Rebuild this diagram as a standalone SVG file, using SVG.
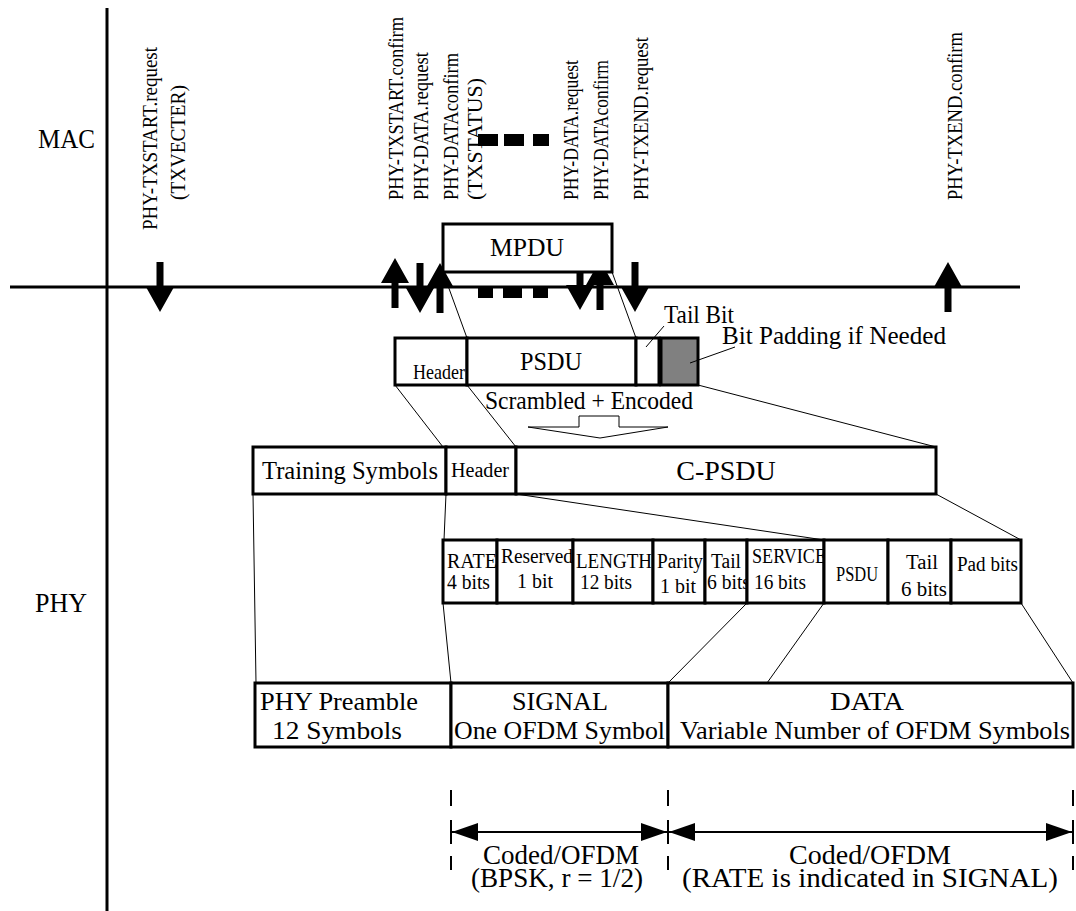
<svg xmlns="http://www.w3.org/2000/svg" width="1076" height="911" viewBox="0 0 1076 911">
<style>
text{font-family:"Liberation Serif","Times New Roman",serif;fill:#000}
.box{fill:#fff;stroke:#000;stroke-width:3}
.thin{stroke:#000;stroke-width:1;fill:none}
.axis{stroke:#000;stroke-width:3;fill:none}
.vl{font-size:20px}
.big{font-size:27px}
.row{font-size:26px}
.mid{font-size:25px}
.fld{font-size:20px}
.tick{stroke:#000;stroke-width:2;fill:none}
</style>
<defs>
<path id="dn" d="M-3.5,0 H3.5 V25 H14 L0,50 L-14,25 H-3.5 Z" fill="#000"/>
<path id="up" d="M0,0 L14,25 H3.5 V50 H-3.5 V25 H-14 Z" fill="#000"/>
<marker id="ah" viewBox="0 0 26 18" refX="26" refY="9" markerWidth="26" markerHeight="18" markerUnits="userSpaceOnUse" orient="auto-start-reverse"><path d="M0,0 L26,9 L0,18 Z" fill="#000"/></marker>
</defs>

<g id="axes">
<line class="axis" x1="107" y1="8" x2="107" y2="911"/>
<line class="axis" x1="10" y1="287" x2="1020" y2="287"/>
<text class="big" x="38" y="148" textLength="57" lengthAdjust="spacingAndGlyphs">MAC</text>
<text class="big" x="35" y="612" textLength="52" lengthAdjust="spacingAndGlyphs">PHY</text>
</g>

<g id="primitives">
<text class="vl" transform="translate(157,230) rotate(-90)" textLength="183" lengthAdjust="spacingAndGlyphs">PHY-TXSTART.request</text>
<text class="vl" transform="translate(185,200) rotate(-90)" textLength="115" lengthAdjust="spacingAndGlyphs">(TXVECTER)</text>
<text class="vl" transform="translate(403,200) rotate(-90)" textLength="183" lengthAdjust="spacingAndGlyphs">PHY-TXSTART.confirm</text>
<text class="vl" transform="translate(428,200) rotate(-90)" textLength="148" lengthAdjust="spacingAndGlyphs">PHY-DATA.request</text>
<text class="vl" transform="translate(458,200) rotate(-90)" textLength="147" lengthAdjust="spacingAndGlyphs">PHY-DATAconfirm</text>
<text class="vl" transform="translate(482,200) rotate(-90)" textLength="122" lengthAdjust="spacingAndGlyphs">(TXSTATUS)</text>
<text class="vl" transform="translate(578,200) rotate(-90)" textLength="140" lengthAdjust="spacingAndGlyphs">PHY-DATA.request</text>
<text class="vl" transform="translate(608,200) rotate(-90)" textLength="140" lengthAdjust="spacingAndGlyphs">PHY-DATAconfirm</text>
<text class="vl" transform="translate(648,200) rotate(-90)" textLength="163" lengthAdjust="spacingAndGlyphs">PHY-TXEND.request</text>
<text class="vl" transform="translate(962,200) rotate(-90)" textLength="168" lengthAdjust="spacingAndGlyphs">PHY-TXEND.confirm</text>
<rect x="478" y="134" width="20" height="12"/>
<rect x="504" y="134" width="20" height="12"/>
<rect x="533" y="134" width="16" height="12"/>
<rect x="478" y="288" width="15" height="10"/>
<rect x="503" y="288" width="19" height="10"/>
<rect x="533" y="288" width="15" height="10"/>
<use href="#dn" x="160" y="262"/>
<use href="#up" x="395" y="258"/>
<use href="#dn" x="420" y="263"/>
<use href="#up" x="440" y="263"/>
<use href="#dn" x="580" y="260"/>
<use href="#up" x="600" y="260"/>
<use href="#dn" x="635" y="262"/>
<use href="#up" x="948" y="262"/>
</g>

<g id="mpdu">
<rect class="box" x="443" y="224" width="169" height="48"/>
<text x="527" y="256" text-anchor="middle" style="font-size:26px" textLength="74" lengthAdjust="spacingAndGlyphs">MPDU</text>
</g>

<g id="psdu-row">
<rect class="box" x="395" y="338" width="72" height="47"/>
<text x="413" y="379" style="font-size:21px" textLength="52" lengthAdjust="spacingAndGlyphs">Header</text>
<rect class="box" x="467" y="338" width="169" height="47"/>
<text x="551" y="370" text-anchor="middle" style="font-size:26px" textLength="62" lengthAdjust="spacingAndGlyphs">PSDU</text>
<rect class="box" x="636" y="338" width="23" height="47"/>
<rect class="box" x="661" y="338" width="37" height="47" style="fill:#808080"/>
<text class="mid" x="664" y="323" textLength="70" lengthAdjust="spacingAndGlyphs">Tail Bit</text>
<text class="mid" x="722" y="344" textLength="224" lengthAdjust="spacingAndGlyphs">Bit Padding if Needed</text>
<text class="mid" x="485" y="409" textLength="208" lengthAdjust="spacingAndGlyphs">Scrambled + Encoded</text>
<path class="thin" d="M579,427 V416 H619 V427 H668 L600,438 L528,427 Z"/>
</g>

<g id="cpsdu-row">
<rect class="box" x="253" y="447" width="193" height="47"/>
<text class="mid" x="262" y="479" textLength="176" lengthAdjust="spacingAndGlyphs">Training Symbols</text>
<rect class="box" x="446" y="447" width="70" height="47"/>
<text x="451" y="477" style="font-size:20px" textLength="58" lengthAdjust="spacingAndGlyphs">Header</text>
<rect class="box" x="516" y="447" width="420" height="47"/>
<text x="726" y="480" text-anchor="middle" style="font-size:28px">C-PSDU</text>
</g>

<g id="fields">
<rect class="box" x="443" y="540" width="54" height="63"/>
<text class="fld" x="447" y="568" textLength="50" lengthAdjust="spacingAndGlyphs">RATE</text>
<text class="fld" x="447" y="589" textLength="43" lengthAdjust="spacingAndGlyphs">4 bits</text>
<rect class="box" x="497" y="540" width="76" height="63"/>
<text class="fld" x="501" y="563" textLength="72" lengthAdjust="spacingAndGlyphs">Reserved</text>
<text class="fld" x="535" y="588" text-anchor="middle">1 bit</text>
<rect class="box" x="573" y="540" width="80" height="63"/>
<text class="fld" x="576" y="568" textLength="76" lengthAdjust="spacingAndGlyphs">LENGTH</text>
<text class="fld" x="580" y="589" textLength="52" lengthAdjust="spacingAndGlyphs">12 bits</text>
<rect class="box" x="653" y="540" width="52" height="63"/>
<text class="fld" x="657" y="568" textLength="46" lengthAdjust="spacingAndGlyphs">Parity</text>
<text class="fld" x="660" y="593" textLength="36" lengthAdjust="spacingAndGlyphs">1 bit</text>
<rect class="box" x="705" y="540" width="42" height="63"/>
<text class="fld" x="711" y="568" textLength="30" lengthAdjust="spacingAndGlyphs">Tail</text>
<text class="fld" x="707" y="589" textLength="43" lengthAdjust="spacingAndGlyphs">6 bits</text>
<rect class="box" x="747" y="540" width="77" height="63"/>
<text class="fld" x="752" y="563" textLength="74" lengthAdjust="spacingAndGlyphs">SERVICE</text>
<text class="fld" x="754" y="589" textLength="52" lengthAdjust="spacingAndGlyphs">16 bits</text>
<rect class="box" x="824" y="540" width="64" height="63"/>
<text class="fld" x="857" y="581" text-anchor="middle" textLength="42" lengthAdjust="spacingAndGlyphs">PSDU</text>
<rect class="box" x="888" y="540" width="63" height="63"/>
<text class="fld" x="922" y="569" text-anchor="middle" textLength="32" lengthAdjust="spacingAndGlyphs">Tail</text>
<text class="fld" x="924" y="596" text-anchor="middle" textLength="46" lengthAdjust="spacingAndGlyphs">6 bits</text>
<rect class="box" x="951" y="540" width="70" height="63"/>
<text class="fld" x="957" y="571" textLength="61" lengthAdjust="spacingAndGlyphs">Pad bits</text>
</g>

<g id="ppdu-row">
<rect class="box" x="255" y="683" width="196" height="64"/>
<text class="row" x="260" y="710" textLength="158" lengthAdjust="spacingAndGlyphs">PHY Preamble</text>
<text class="row" x="272" y="739" textLength="130" lengthAdjust="spacingAndGlyphs">12 Symbols</text>
<rect class="box" x="451" y="683" width="217" height="64"/>
<text class="row" x="560" y="710" text-anchor="middle" textLength="96" lengthAdjust="spacingAndGlyphs">SIGNAL</text>
<text class="row" x="454" y="739" textLength="211" lengthAdjust="spacingAndGlyphs">One OFDM Symbol</text>
<rect class="box" x="668" y="683" width="405" height="64"/>
<text class="row" x="867" y="710" text-anchor="middle" textLength="74" lengthAdjust="spacingAndGlyphs">DATA</text>
<text class="row" x="680" y="739" textLength="390" lengthAdjust="spacingAndGlyphs">Variable Number of OFDM Symbols</text>
</g>

<g id="connectors">
<line class="thin" x1="443" y1="272" x2="467" y2="338"/>
<line class="thin" x1="612" y1="272" x2="636" y2="338"/>
<line class="thin" x1="646" y1="347" x2="664" y2="326"/>
<line class="thin" x1="690" y1="363" x2="735" y2="347"/>
<line class="thin" x1="395" y1="385" x2="443" y2="447"/>
<line class="thin" x1="467" y1="385" x2="516" y2="447"/>
<line class="thin" x1="698" y1="385" x2="936" y2="447"/>
<line class="thin" x1="253" y1="494" x2="256" y2="683"/>
<line class="thin" x1="446" y1="494" x2="444" y2="540"/>
<line class="thin" x1="516" y1="494" x2="824" y2="540"/>
<line class="thin" x1="936" y1="494" x2="1021" y2="540"/>
<line class="thin" x1="443" y1="603" x2="451" y2="683"/>
<line class="thin" x1="747" y1="603" x2="668" y2="683"/>
<line class="thin" x1="824" y1="603" x2="767" y2="683"/>
<line class="thin" x1="1021" y1="603" x2="1073" y2="683"/>
</g>

<g id="durations">
<path class="tick" d="M451,790 V806 M451,820 V844 M451,856 V870 M668,790 V806 M668,820 V844 M668,856 V870 M1073,790 V806 M1073,820 V844 M1073,856 V870"/>
<line x1="452" y1="832" x2="667" y2="832" stroke="#000" stroke-width="2" marker-start="url(#ah)" marker-end="url(#ah)"/>
<line x1="669" y1="832" x2="1072" y2="832" stroke="#000" stroke-width="2" marker-start="url(#ah)" marker-end="url(#ah)"/>
<text x="561" y="864" text-anchor="middle" style="font-size:27px" textLength="156" lengthAdjust="spacingAndGlyphs">Coded/OFDM</text>
<text x="557" y="887" text-anchor="middle" style="font-size:27px" textLength="172" lengthAdjust="spacingAndGlyphs">(BPSK, r = 1/2)</text>
<text x="870" y="864" text-anchor="middle" style="font-size:27px" textLength="162" lengthAdjust="spacingAndGlyphs">Coded/OFDM</text>
<text x="870" y="887" text-anchor="middle" style="font-size:27px" textLength="376" lengthAdjust="spacingAndGlyphs">(RATE is indicated in SIGNAL)</text>
</g>
</svg>
